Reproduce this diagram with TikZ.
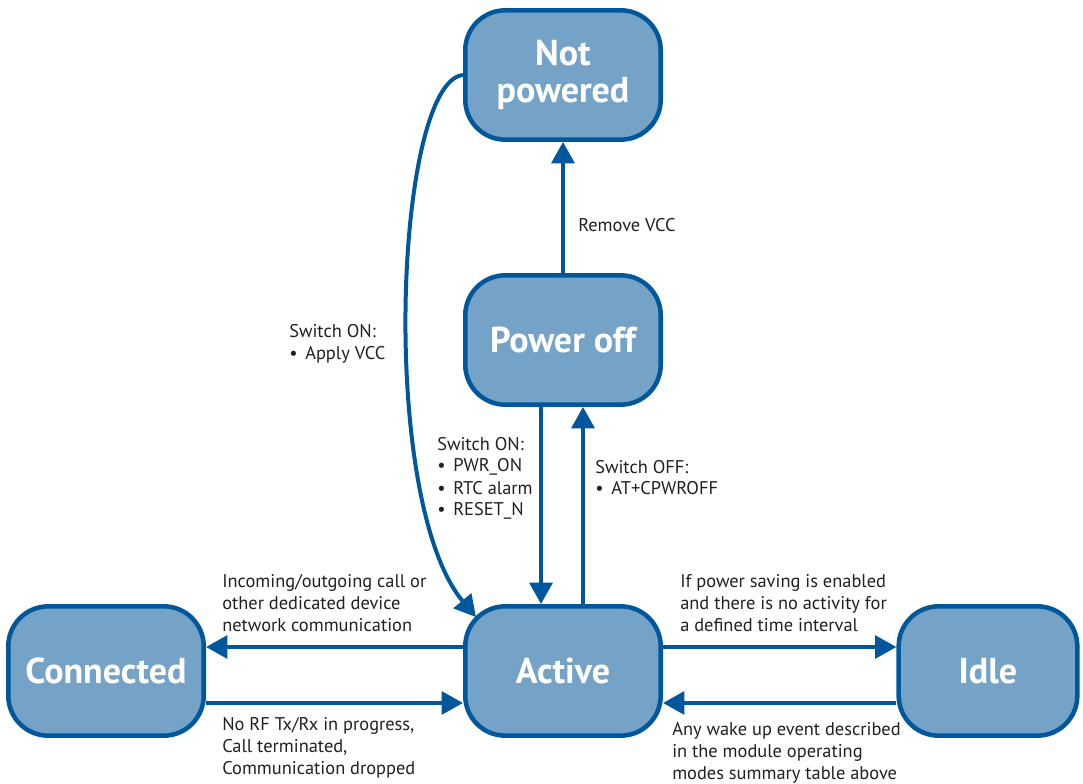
\documentclass[tikz,border=0pt]{standalone}
\usepackage{fontspec}
\setmainfont{PT Sans}
\usepackage{tikz}
\usetikzlibrary{arrows.meta,calc}
\definecolor{modefill}{RGB}{116,163,199}
\definecolor{modeline}{RGB}{0,87,155}
\definecolor{labeltext}{RGB}{35,31,32}
\tikzset{
	mode/.style={draw=modeline, fill=modefill, line width=3.4pt, rounded corners=30pt,
		minimum width=146.6pt, minimum height=97pt, align=center, text=white,
		font=\fontsize{27}{27.5}\selectfont\bfseries},
	trans/.style={draw=modeline, line width=3pt, -{Triangle[length=16pt,width=17pt]}},
	cond/.style={anchor=base west, align=left, inner sep=0pt, text=labeltext,
		font=\fontsize{13.8}{16.5}\selectfont}
}
\newcommand{\condbullet}{\makebox[12pt][l]{\textbullet}}
\begin{document}
\begin{tikzpicture}[x=0.75pt, y=-0.75pt]
		\useasboundingbox (0,0) rectangle (1083,784);
		\node[mode] (notpow) at (563,75) {Not\\powered};
		\node[mode] (poweroff) at (563,340) {Power off};
		\node[mode] (active) at (563,671) {Active};
		\node[mode] (connected) at (106,671) {Connected};
		\node[mode, minimum width=134pt] (idle) at (988,671) {Idle};

		\draw[trans] (poweroff) -- (notpow);
		\draw[trans] ([xshift=-16.5pt]poweroff.south) -- ([xshift=-16.5pt]active.north);
		\draw[trans] ([xshift=15pt]active.north) -- ([xshift=15pt]poweroff.south);
		\draw[trans] (notpow.west) .. controls (395,82) and (378,500) .. ([shift={(13,13)}]active.north west);
		\draw[trans] ([yshift=18pt]active.west) -- ([yshift=18pt]connected.east);
		\draw[trans] ([yshift=-24pt]connected.east) -- ([yshift=-24pt]active.west);
		\draw[trans] ([yshift=18pt]active.east) -- ([yshift=18pt]idle.west);
		\draw[trans] ([yshift=-24pt]idle.west) -- ([yshift=-24pt]active.east);

		\node[cond] (removelbl) at (578,232) {Remove VCC};
		\node[cond] (onlbl) at (437,516) {Switch ON:\\\condbullet PWR\_ON\\\condbullet RTC alarm\\\condbullet RESET\_N};
		\node[cond] (offlbl) at (595,495) {Switch OFF:\\\condbullet AT+CPWROFF};
		\node[cond] (vcclbl) at (289,360) {Switch ON:\\\condbullet Apply VCC};
		\node[cond] (calllbl) at (222,631) {Incoming/outgoing call or\\other dedicated device\\network communication};
		\node[cond] (droplbl) at (222,774) {No RF Tx/Rx in progress,\\Call terminated,\\Communication dropped};
		\node[cond] (savelbl) at (680,631) {If power saving is enabled\\and there is no activity for\\a defined time interval};
		\node[cond] (wakelbl) at (672,779) {Any wake up event described\\in the module operating\\modes summary table above};
	\end{tikzpicture}
\end{document}
